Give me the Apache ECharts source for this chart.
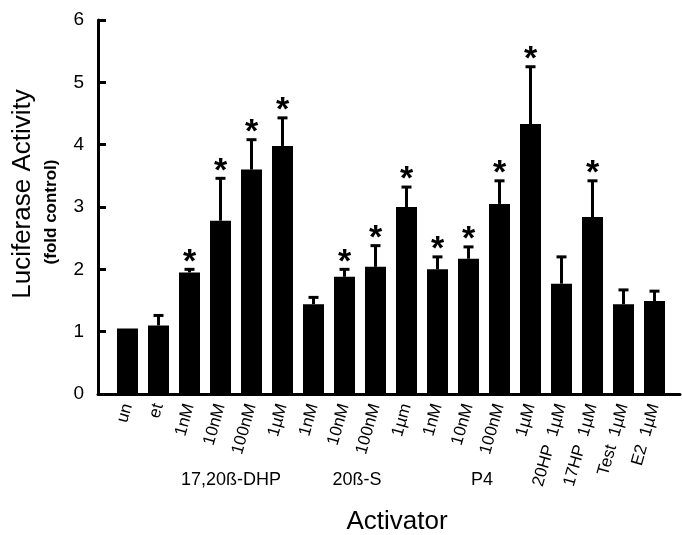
<!DOCTYPE html>
<html>
<head>
<meta charset="utf-8">
<script src="https://cdn.jsdelivr.net/npm/echarts@6/dist/echarts.min.js"></script>
<style>
  html, body { margin: 0; padding: 0; background: #fff; }
  #chart { width: 682px; height: 535px; }
</style>
</head>
<body>
<div id="chart"></div>
<script>
var labels = ['un', 'et', '1nM', '10nM', '100nM', '1µM', '1nM', '10nM', '100nM', '1µm',
              '1nM', '10nM', '100nM', '1µM', '20HP  1µM', '17HP  1µM', 'Test  1µM', 'E2  1µM'];
var means = [1.05, 1.1, 1.95, 2.78, 3.6, 3.98, 1.44, 1.88, 2.04, 3.0,
             2.0, 2.17, 3.05, 4.33, 1.77, 2.84, 1.44, 1.49];
var errs = [0, 0.16, 0.05, 0.68, 0.48, 0.45, 0.11, 0.12, 0.34, 0.32,
            0.2, 0.19, 0.37, 0.92, 0.43, 0.58, 0.23, 0.16];
var stars = [0, 0, 1, 1, 1, 1, 0, 1, 1, 1, 1, 1, 1, 1, 0, 1, 0, 0];
var yTicks = [0, 1, 2, 3, 4, 5, 6];
var groups = [
    { name: '17,20ß-DHP', x: 231 },
    { name: '20ß-S', x: 357 },
    { name: 'P4', x: 482 }
];

var FONT = 'Arial, "Liberation Sans", sans-serif';

var errData = means.map(function(m, i) { return [i, m, m + errs[i], stars[i]]; });

var graphics = groups.map(function(g) {
    return {
        type: 'text', x: g.x, y: 480,
        style: { text: g.name, font: '18px ' + FONT, fill: '#000', align: 'center', verticalAlign: 'middle' }
    };
});
graphics.push({
    type: 'text', x: 23, y: 194, rotation: Math.PI / 2,
    style: { text: 'Luciferase Activity', font: '26px ' + FONT, fill: '#000', align: 'center', verticalAlign: 'middle' }
});
graphics.push({
    type: 'text', x: 51, y: 212, rotation: Math.PI / 2,
    style: { text: '(fold control)', font: 'bold 17px ' + FONT, fill: '#000', align: 'center', verticalAlign: 'middle' }
});
graphics.push({
    type: 'text', x: 397, y: 522,
    style: { text: 'Activator', font: '26px ' + FONT, fill: '#000', align: 'center', verticalAlign: 'middle' }
});

var option = {
    animation: false,
    backgroundColor: '#fff',
    grid: [
        { left: 98, right: 2, top: 20, bottom: 141 },
        { left: 112, right: 12, top: 20, bottom: 141 }
    ],
    xAxis: [{
        gridIndex: 0, type: 'value', min: 0, max: 1,
        axisLine: { show: true, lineStyle: { color: '#000', width: 3 } },
        axisTick: { show: false }, axisLabel: { show: false }, splitLine: { show: false }
    }, {
        gridIndex: 1, type: 'category', data: labels,
        axisLine: { show: false }, axisTick: { show: false },
        axisLabel: {
            rotate: 74, margin: 10, interval: 0, color: '#000', fontSize: 17, fontFamily: FONT,
            formatter: function(v, i) { return labels[i]; }
        }
    }],
    yAxis: [{
        gridIndex: 0, type: 'value', min: 0, max: 6, interval: 1,
        axisLine: { show: true, lineStyle: { color: '#000', width: 3 } },
        axisTick: { show: true, inside: true, length: 8, lineStyle: { color: '#000', width: 3 } },
        axisLabel: {
            margin: 14, color: '#000', fontSize: 19, fontFamily: FONT,
            formatter: function(v) { return yTicks.indexOf(v) >= 0 ? String(v) : ''; }
        },
        splitLine: { show: false }
    }, {
        gridIndex: 1, type: 'value', min: 0, max: 6, show: false, splitLine: { show: false }
    }],
    graphic: graphics,
    series: [{
        type: 'bar', xAxisIndex: 1, yAxisIndex: 1,
        data: means, barWidth: 21,
        itemStyle: { color: '#000' }
    }, {
        type: 'custom', xAxisIndex: 1, yAxisIndex: 1,
        data: errData, z: 5,
        renderItem: function(params, api) {
            var i = api.value(0);
            var base = api.coord([i, api.value(1)]);
            var top = api.coord([i, api.value(2)]);
            var children = [];
            if (api.value(2) > api.value(1)) {
                children.push({
                    type: 'line', shape: { x1: base[0], y1: base[1], x2: top[0], y2: top[1] },
                    style: { stroke: '#000', lineWidth: 3 }
                });
                children.push({
                    type: 'line', shape: { x1: top[0] - 5, y1: top[1], x2: top[0] + 5, y2: top[1] },
                    style: { stroke: '#000', lineWidth: 3 }
                });
            }
            if (api.value(3)) {
                children.push({
                    type: 'text', x: top[0], y: top[1] - 7,
                    style: { text: '*', font: 'bold 34px ' + FONT, fill: '#000', align: 'center', verticalAlign: 'middle' }
                });
            }
            return { type: 'group', children: children };
        }
    }]
};

var myChart = echarts.init(document.getElementById('chart'));
myChart.setOption(option);
</script>
</body>
</html>
